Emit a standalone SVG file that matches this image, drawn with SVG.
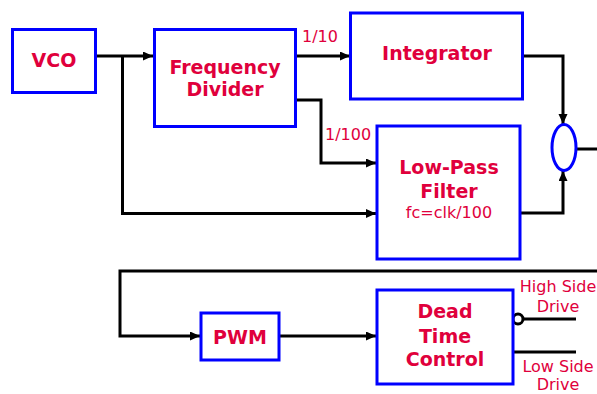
<svg xmlns="http://www.w3.org/2000/svg" width="597" height="394" viewBox="0 0 597 394">
<style>
.box{fill:#fff;stroke:#0000ff;stroke-width:3}
.ln{fill:none;stroke:#000;stroke-width:3}
.t{font-family:"DejaVu Sans",Verdana,sans-serif;font-weight:bold;font-size:19px;fill:#e0003c;text-anchor:middle}
.s{font-family:"DejaVu Sans",Verdana,sans-serif;font-size:16px;fill:#e0003c}
</style>
<defs>
<marker id="ah" markerUnits="userSpaceOnUse" markerWidth="11" markerHeight="10" refX="10" refY="4.5" orient="auto">
<path d="M0,0 L10,4.5 L0,9 z" fill="#000"/>
</marker>
</defs>
<g id="connectors">
<path class="ln" d="M96,56 H153" marker-end="url(#ah)"/>
<path class="ln" d="M122.5,56 V213.5 H376" marker-end="url(#ah)"/>
<path class="ln" d="M295,56 H350" marker-end="url(#ah)"/>
<path class="ln" d="M295,100 H321 V163 H376" marker-end="url(#ah)"/>
<path class="ln" d="M523,56 H563 V124" marker-end="url(#ah)"/>
<path class="ln" d="M520,213 H563 V171" marker-end="url(#ah)"/>
<path class="ln" d="M576,149 H597"/>
<path class="ln" d="M597,271 H120 V336 H200" marker-end="url(#ah)"/>
<path class="ln" d="M280,336 H376" marker-end="url(#ah)"/>
<circle class="ln" cx="518" cy="319" r="5"/>
<path class="ln" d="M523,319 H576"/>
<path class="ln" d="M513,352 H576"/>
<text class="s" x="302" y="42">1/10</text>
<text class="s" x="325" y="140">1/100</text>
<text class="s" x="558" y="292" text-anchor="middle">High Side</text>
<text class="s" x="558" y="312" text-anchor="middle">Drive</text>
<text class="s" x="558" y="372" text-anchor="middle">Low Side</text>
<text class="s" x="558" y="390" text-anchor="middle">Drive</text>
</g>
<g id="vco">
<rect class="box" x="12.5" y="29.5" width="83" height="63"/>
<text class="t" x="54" y="67">VCO</text>
</g>
<g id="freq-divider">
<rect class="box" x="154.5" y="29.5" width="141" height="97"/>
<text class="t" x="225" y="74">Frequency</text>
<text class="t" x="225" y="96">Divider</text>
</g>
<g id="integrator">
<rect class="box" x="350.5" y="13" width="172" height="86"/>
<text class="t" x="437" y="60">Integrator</text>
</g>
<g id="lpf">
<rect class="box" x="377" y="126" width="143" height="133"/>
<text class="t" x="449" y="174">Low-Pass</text>
<text class="t" x="449" y="198">Filter</text>
<text class="s" x="449" y="218" text-anchor="middle">fc=clk/100</text>
</g>
<g id="sum">
<ellipse class="box" cx="564" cy="147.5" rx="12" ry="23"/>
</g>
<g id="pwm">
<rect class="box" x="201" y="313" width="78" height="47"/>
<text class="t" x="240" y="344">PWM</text>
</g>
<g id="deadtime">
<rect class="box" x="377" y="290" width="136" height="94"/>
<text class="t" x="445" y="318">Dead</text>
<text class="t" x="445" y="343">Time</text>
<text class="t" x="445" y="366">Control</text>
</g>
</svg>
